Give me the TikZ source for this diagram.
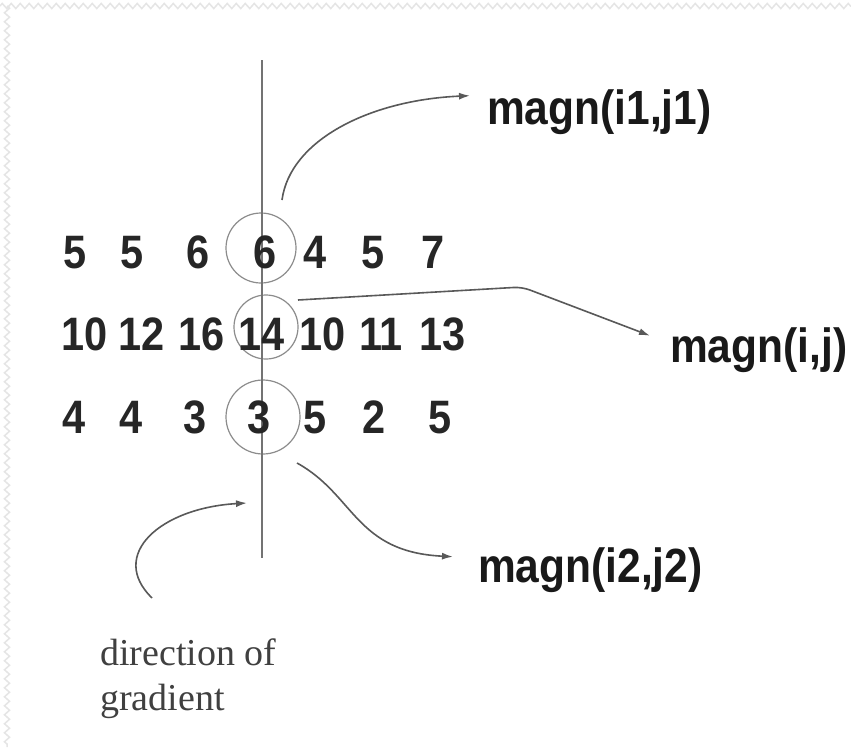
\documentclass[tikz,border=0pt]{standalone}
\usepackage{fontspec}
\setmainfont{Liberation Sans}
\newfontfamily\serifface{Liberation Serif}
\usetikzlibrary{arrows.meta,decorations.pathmorphing}
\newcommand\tallbox[1]{\scalebox{1}[1.13]{#1}}
\begin{document}
\begin{tikzpicture}[x=1pt,y=-1pt,
  num/.style={anchor=base,inner sep=0pt,font=\fontsize{41.5}{49}\selectfont\bfseries,text=black!85},
  lab/.style={anchor=base west,inner sep=0pt,font=\fontsize{42.5}{49}\selectfont\bfseries,text=black!90},
  ring/.style={draw=black!45,line width=1.2pt,circle,inner sep=0pt},
  conn/.style={draw=black!65,line width=1.6pt,-{Latex[length=11pt,width=7pt]}},
  border/.style={draw=black!10,line width=1.5pt,decorate,decoration={zigzag,amplitude=2.5pt,segment length=9pt}},
]
\useasboundingbox (0,0) rectangle (851,747);
\fill[white] (0,0) rectangle (851,747);
% faint frame texture
\path[border] (0,6) -- (851,6);
\path[border] (7,6) -- (7,747);

% circles
\node[ring,minimum size=70pt] (c1) at (261,248) {};
\node[ring,minimum size=64pt] (c2) at (266,327) {};
\node[ring,minimum size=74pt] (c3) at (263,417) {};

% vertical line (direction of gradient)
\coordinate (vt) at (262,60);
\coordinate (vb) at (262,558);
\draw[black!55,line width=1.4pt] (vt) -- (vb);

% numbers
\foreach \x/\t [count=\i] in {75/5,132/5,198/6,265/6,315/4,373/5,433/7}
  \node[num] (a\i) at (\x,268) {\tallbox{\t}};
\foreach \x/\t [count=\i] in {85/10,142/12,202/16,262/14,323/10,381/11,443/13}
  \node[num] (b\i) at (\x,350) {\tallbox{\t}};
\foreach \x/\t [count=\i] in {74/4,131/4,195/3,259/3,315/5,374/2,440/5}
  \node[num] (d\i) at (\x,433) {\tallbox{\t}};

% labels
\node[lab] (l1) at (487,124) {\tallbox{magn(i1,j1)}};
\node[lab] (l2) at (670,362) {\tallbox{magn(i,j)}};
\node[lab] (l3) at (478,582) {\tallbox{magn(i2,j2)}};
\node[anchor=base west,align=left,inner sep=0pt,text=black!75,
      font=\serifface\fontsize{38}{45}\selectfont] (dir) at (100,710) {direction of\\gradient};

% connector start points
\coordinate (s1) at (282,200);
\coordinate (s2) at (298,300);
\coordinate (k2) at (522,287);
\coordinate (s3) at (297,463);
\coordinate (s4) at (152,598);
\coordinate (g4) at (247,503);

\draw[conn] (s1) .. controls (290,140) and (370,100) .. ([xshift=-17pt,yshift=16pt]l1.west);
\draw[conn,rounded corners=8pt] (s2) -- (k2) -- ([xshift=-20pt,yshift=14pt]l2.west);
\draw[conn] (s3) .. controls (355,495) and (355,552) .. ([xshift=-25pt,yshift=13pt]l3.west);
\draw[conn] (s4) .. controls (108,555) and (160,508) .. (g4);
\end{tikzpicture}
\end{document}
